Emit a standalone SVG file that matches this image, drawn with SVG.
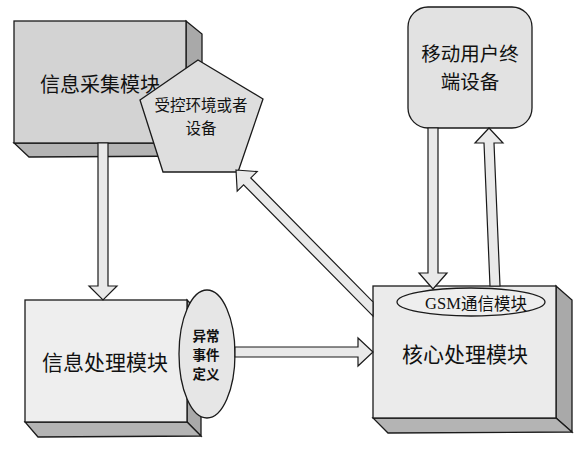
<svg xmlns="http://www.w3.org/2000/svg" width="582" height="450" viewBox="0 0 582 450">
<style>
.ol{stroke:#1a1a1a;stroke-width:1.3;stroke-linejoin:miter}
.side{fill:#a9a9a9}
.bot{fill:#b4b4b4}
.t{font-family:"Noto Sans CJK SC","Noto Sans",sans-serif;fill:#111;text-anchor:middle;dominant-baseline:central}
.arr{fill:#e9e9e9;stroke:#1a1a1a;stroke-width:1.2;stroke-linejoin:miter}
</style>
<rect width="582" height="450" fill="#ffffff"/>
<g id="node-collect">
<polygon class="ol side" points="186,21 202,34 202,156 186,143"/>
<polygon class="ol bot" points="14,143 186,143 202,156 29,157"/>
<rect class="ol" x="14" y="21" width="172" height="122" fill="#d3d3d3"/>
<text class="t" x="100" y="83" font-size="20">信息采集模块</text>
</g>
<g id="node-env">
<polygon class="ol" points="198,60 263,99 238,172 163,172 140,100" fill="#dedede"/>
<text class="t" x="201" y="104" font-size="15.5">受控环境或者</text>
<text class="t" x="201" y="127" font-size="15.5">设备</text>
</g>
<g id="node-mobile">
<rect class="ol" x="408" y="7" width="124" height="121" rx="20" ry="20" fill="#e2e2e2"/>
<text class="t" x="470" y="52" font-size="19.5">移动用户终</text>
<text class="t" x="470" y="80" font-size="19.5">端设备</text>
</g>
<g id="node-process">
<polygon class="ol side" points="187,300 201,314 201,436 187,422"/>
<polygon class="ol bot" points="25,422 187,422 201,436 38,437"/>
<rect class="ol" x="25" y="300" width="162" height="122" fill="#eeeeee"/>
<text class="t" x="105" y="361" font-size="21">信息处理模块</text>
</g>
<g id="node-event">
<ellipse class="ol" cx="207" cy="354" rx="28" ry="64" fill="#e6e6e6"/>
<text class="t" x="206" y="335" font-size="13.5" font-weight="bold">异常</text>
<text class="t" x="206" y="354" font-size="13.5" font-weight="bold">事件</text>
<text class="t" x="206" y="373" font-size="13.5" font-weight="bold">定义</text>
</g>
<g id="node-core">
<polygon class="ol side" points="556,286 572,300 572,432 556,418"/>
<polygon class="ol bot" points="373,418 556,418 572,432 388,433"/>
<rect class="ol" x="373" y="286" width="183" height="132" fill="#ebebeb"/>
<text class="t" x="465" y="353" font-size="21">核心处理模块</text>
</g>
<g id="node-gsm">
<ellipse class="ol" cx="471" cy="302" rx="74" ry="14" fill="#eeeeee"/>
<text class="t" x="476" y="303" font-size="16.5"><tspan font-family="Liberation Serif,serif">GSM</tspan>通信模块</text>
</g>
<g id="connectors">
<polygon class="arr" points="98,143 108,143 108,286 117,286 103,300 89,286 98,286"/>
<polygon class="arr" points="236,170 257.2,171.6 250.8,177.9 373,301.9 373,316.1 243.6,184.9 237.2,191.2"/>
<polygon class="arr" points="235,347 358,347 358,338 373,352 358,366 358,357 235,357"/>
<polygon class="arr" points="428,128 438,128 438,273 447,273 433,289 419,273 428,273"/>
<polygon class="arr" points="489,128 503,143 494,143 500,286 490,286 484,143 475,143"/>
</g>
</svg>
